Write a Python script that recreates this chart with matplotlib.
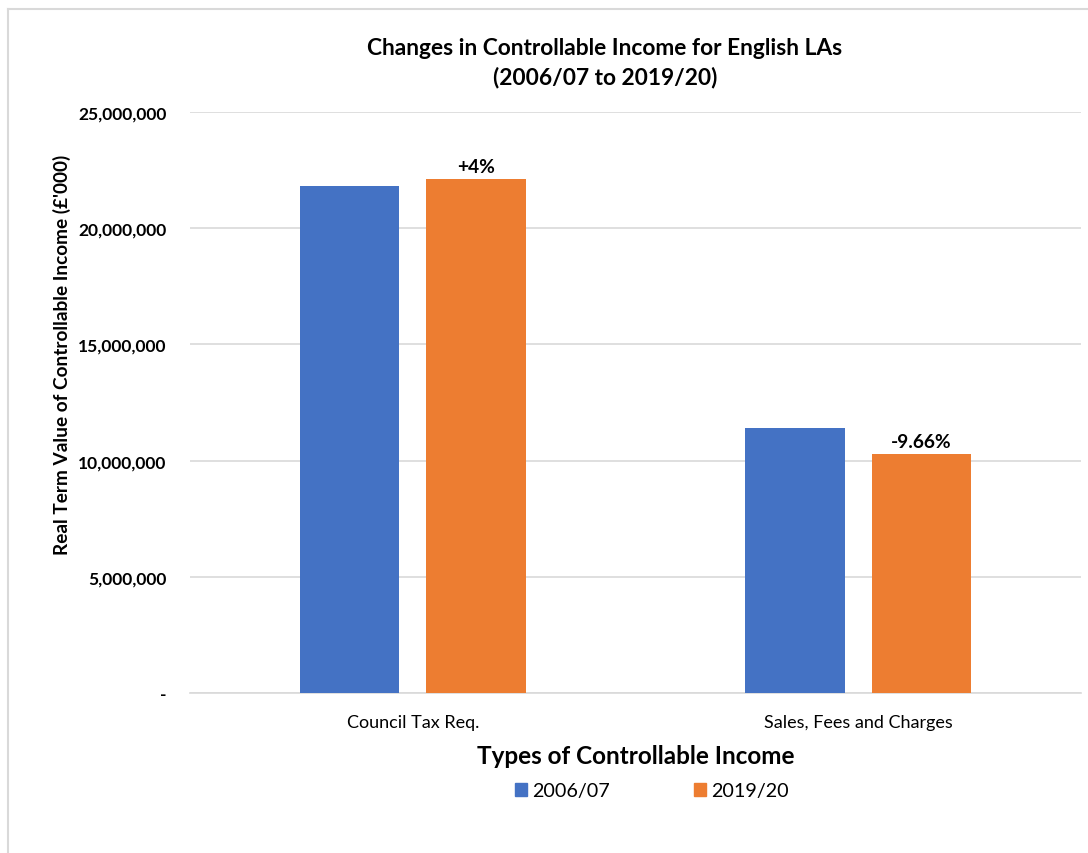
import numpy as np
import matplotlib
matplotlib.use('Agg')
import matplotlib.pyplot as plt
from matplotlib.lines import Line2D
from matplotlib.patches import Patch
from matplotlib.ticker import FuncFormatter

# income types and real-term values (£'000)
categories = ['Council Tax Req.', 'Sales, Fees and Charges']
years = ['2006/07', '2019/20']
values_2006 = [21820000, 11400000]
values_2019 = [22130000, 10290000]
change_labels = ['+4%', '-9.66%']

blue = '#4472C4'
orange = '#ED7D31'

plt.rcParams['font.family'] = ['Lato', 'DejaVu Sans']

W, H = 1088, 854
fig = plt.figure(figsize=(W / 100, H / 100), dpi=100)
fig.patch.set_facecolor('white')

# axes box in pixels: left 190, right 1081, top 113, bottom 694
ax = fig.add_axes([190 / W, 1 - 694 / H, (1081 - 190) / W, (694 - 113) / H])

x = np.arange(len(categories))
width = 0.224
offset = 0.142
ax.bar(x - offset, values_2006, width, color=blue, label=years[0], zorder=3)
bars2 = ax.bar(x + offset, values_2019, width, color=orange, label=years[1], zorder=3)

for rect, txt in zip(bars2, change_labels):
    ax.annotate(txt, (rect.get_x() + rect.get_width() / 2, rect.get_height()),
                xytext=(0, 3), textcoords='offset points', ha='center', va='bottom',
                fontsize=13.8, fontweight='bold', color='#000000')

ax.set_xlim(-0.5, 1.5)
ax.set_ylim(0, 25000000)
ax.set_yticks(np.arange(0, 25000001, 5000000))
ax.yaxis.set_major_formatter(FuncFormatter(lambda v, p: '-' if v == 0 else '{:,.0f}'.format(v)))
ax.grid(axis='y', color='#D9D9D9', linewidth=1.2, zorder=0)
for s in ['top', 'right', 'left']:
    ax.spines[s].set_visible(False)
ax.spines['bottom'].set_color('#D9D9D9')
ax.spines['bottom'].set_linewidth(1.2)
ax.tick_params(axis='both', length=0)
ax.tick_params(axis='y', pad=17, labelsize=12.5)
for lab in ax.get_yticklabels():
    lab.set_fontweight('bold')
ax.set_xticks(x)
ax.set_xticklabels(categories, fontsize=13)
ax.tick_params(axis='x', pad=15)

ax.set_ylabel("Real Term Value of Controllable Income (£'000)", fontsize=13.7, fontweight='bold')
ax.yaxis.set_label_coords(-0.134, 0.583)
ax.set_xlabel('Types of Controllable Income', fontsize=17.5, fontweight='bold', labelpad=10)

fig.text(605 / W, 1 - 63 / H, 'Changes in Controllable Income for English LAs\n(2006/07 to 2019/20)',
         ha='center', va='center', fontsize=16.4, fontweight='bold', linespacing=1.45)

handles = [Patch(color=blue), Patch(color=orange)]
fig.legend(handles, years, loc='center', bbox_to_anchor=(652 / W, 1 - 792 / H), ncol=2,
           frameon=False, fontsize=14.2, handlelength=0.61, handleheight=0.61,
           handletextpad=0.25, columnspacing=4.3)

# chart area border (left and top edges)
fig.add_artist(Line2D([8 / W, 8 / W], [1 - 853 / H, 1 - 10 / H], color='#D9D9D9', linewidth=1.5))
fig.add_artist(Line2D([8 / W, 1.0], [1 - 10 / H, 1 - 10 / H], color='#D9D9D9', linewidth=1.5))

plt.savefig('out.png', dpi=100)
